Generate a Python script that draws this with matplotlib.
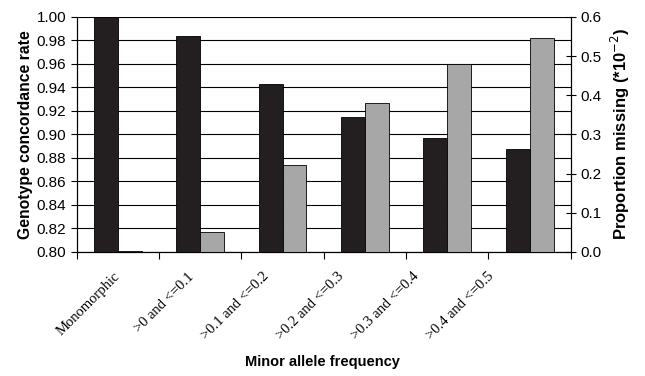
import numpy as np
import matplotlib.pyplot as plt

# Data
kategorier = ["Monomorphic", ">0 and <=0.1", ">0.1 and <=0.2", ">0.2 and <=0.3",
              ">0.3 and <=0.4", ">0.4 and <=0.5"]
konkordans = [1.000, 0.984, 0.943, 0.915, 0.897, 0.888]
mangler = [0.002, 0.052, 0.222, 0.381, 0.480, 0.546]

fig = plt.figure(figsize=(6.45, 3.76), dpi=100)
ax = fig.add_axes([0.119, 0.330, 0.766, 0.625])
ax2 = ax.twinx()

x = np.arange(len(kategorier))
w = 0.29
ax.bar(x - w / 2, np.array(konkordans) - 0.8, w, bottom=0.8, color="#231f20",
       edgecolor="black", linewidth=0.6, zorder=3)
ax2.bar(x + w / 2, mangler, w, color="#a7a7a7", edgecolor="black", linewidth=0.6, zorder=3)

ax.set_ylim(0.8, 1.0)
ax.set_yticks(np.arange(0.80, 1.001, 0.02))
ax.set_yticklabels([f"{v:.2f}" for v in np.arange(0.80, 1.001, 0.02)])
ax2.set_ylim(0, 0.6)
ax2.set_yticks(np.arange(0, 0.61, 0.1))
ax2.set_yticklabels([f"{v:.1f}" for v in np.arange(0, 0.61, 0.1)])
ax.set_xlim(-0.5, len(kategorier) - 0.5)

ax.grid(axis="y", color="black", linewidth=0.8, zorder=0)
ax.set_axisbelow(True)
ax2.set_zorder(ax.get_zorder() + 1)
ax2.patch.set_visible(False)

for a in (ax, ax2):
    a.spines["top"].set_visible(False)
    a.spines["left"].set_linewidth(0.8)
    a.spines["right"].set_linewidth(0.8)
    a.spines["bottom"].set_linewidth(0.8)

# etikettene i originalen er litt sammenpresset mot venstre
ax.set_xticks(np.arange(-0.5, len(kategorier), 1.0))
ax.set_xticklabels([])
ax.set_xticks(x * 0.908 - 0.06, minor=True)
ax.set_xticklabels(kategorier, minor=True, rotation=45, ha="right", va="top",
                   rotation_mode="anchor", family="Liberation Serif", fontsize=10.5)
ax.tick_params(axis="x", which="minor", length=0, pad=13)
ax.tick_params(axis="x", which="major", length=5, direction="out")
ax.tick_params(axis="y", length=4, labelsize=11)
ax2.tick_params(axis="y", length=7, direction="inout", labelsize=11)
for lbl in ax.get_yticklabels() + ax2.get_yticklabels():
    lbl.set_family("Liberation Sans")

ax.set_ylabel("Genotype concordance rate", fontweight="bold", family="Liberation Sans",
              fontsize=11.3, labelpad=3)
ax2.set_ylabel("Proportion missing (*10$^{-2}$)", fontweight="bold", family="Liberation Sans",
               fontsize=12, labelpad=5)
fig.text(0.5, 0.027, "Minor allele frequency", ha="center", fontweight="bold",
         family="Liberation Sans", fontsize=10.5)

fig.savefig("out.png", dpi=100)
